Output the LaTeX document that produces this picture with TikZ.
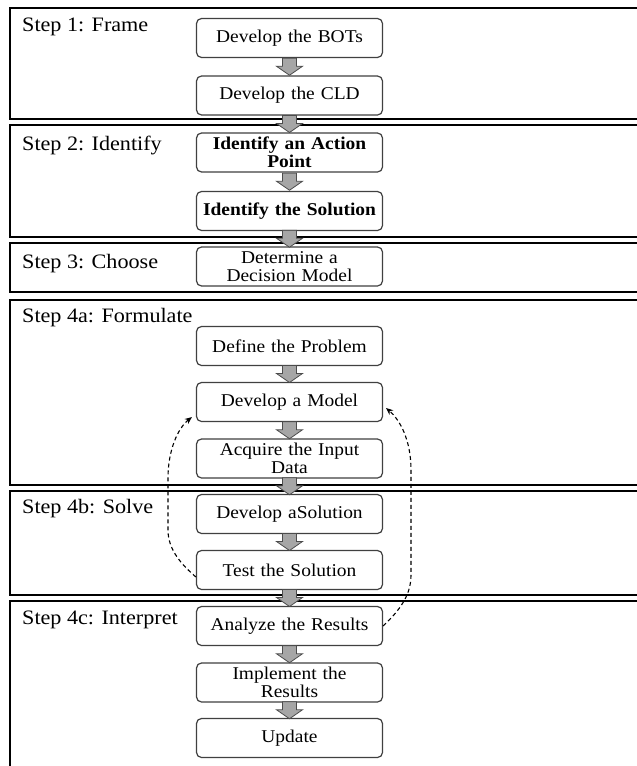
\documentclass[tikz,border=0pt]{standalone}
\usepackage{fontspec}
\setmainfont{Liberation Serif}[FakeStretch=1.08]
\usetikzlibrary{arrows.meta,calc}
\tikzset{
  panel/.style={draw=black, line width=2.6bp},
  stepbox/.style={draw=black!75, rounded corners=5bp, minimum width=186bp, minimum height=39bp,
    align=center, text width=180bp, inner sep=1bp, fill=white, line width=1.2bp,
    font=\fontsize{18bp}{17.5bp}\selectfont},
  boldbox/.style={stepbox, font=\fontsize{18bp}{17.5bp}\selectfont\bfseries},
  steplabel/.style={anchor=base west, inner sep=0pt, font=\fontsize{20.5bp}{21bp}\selectfont},
  blockarrow/.pic={\path[draw=black!70, fill=black!35, line width=0.8bp, line join=miter]
     (-7,-8.5) -- (7,-8.5) -- (7,-0.5) -- (13,-0.5) -- (0,8.5) -- (-13,-0.5) -- (-7,-0.5) -- cycle;},
  loop/.style={dashed, dash pattern=on 4bp off 3bp, line width=1.1bp, -{Stealth[length=7bp,width=6bp]}}
}
\begin{document}
\begin{tikzpicture}[x=1bp,y=-1bp]
\useasboundingbox (0,0) rectangle (637,766);
\clip (0,0) rectangle (637,766);
\fill[white] (0,0) rectangle (637,766);
% panels
\draw[panel] (10,8) rectangle (680,119);
\draw[panel] (10,125) rectangle (680,237);
\draw[panel] (10,243) rectangle (680,292);
\draw[panel] (10,300) rectangle (680,485);
\draw[panel] (10,491) rectangle (680,595);
\draw[panel] (10,601) rectangle (680,800);
% labels
\node[steplabel] (l1) at (22,32) {Step 1: Frame};
\node[steplabel] (l2) at (22,150) {Step 2: Identify};
\node[steplabel] (l3) at (22,268) {Step 3: Choose};
\node[steplabel] (l4) at (22,322) {Step 4a: Formulate};
\node[steplabel] (l5) at (22,513) {Step 4b: Solve};
\node[steplabel] (l6) at (22,624) {Step 4c: Interpret};
% boxes
\node[stepbox] (bots) at (289.5,38) {Develop the BOTs};
\node[stepbox] (cld) at (289.5,95.5) {Develop the CLD};
\node[boldbox] (action) at (289.5,152.5) {Identify an Action\\Point};
\node[boldbox] (solution) at (289.5,211) {Identify the Solution};
\node[stepbox] (decision) at (289.5,266.5) {Determine a\\Decision Model};
\node[stepbox] (define) at (289.5,346) {Define the Problem};
\node[stepbox] (model) at (289.5,402) {Develop a Model};
\node[stepbox] (acquire) at (289.5,458.5) {Acquire the Input\\Data};
\node[stepbox] (devsol) at (289.5,514) {Develop aSolution};
\node[stepbox] (test) at (289.5,570) {Test the Solution};
\node[stepbox] (analyze) at (289.5,626) {Analyze the Results};
\node[stepbox] (implement) at (289.5,682.5) {Implement the\\Results};
\node[stepbox] (update) at (289.5,738) {Update};
% block arrows
\foreach \a/\b in {bots/cld,cld/action,action/solution,solution/decision,
  define/model,model/acquire,acquire/devsol,devsol/test,test/analyze,analyze/implement,implement/update}{
  \pic at ($(\a.south)!0.5!(\b.north)$) {blockarrow};
}
% feedback loops
\draw[loop] ([yshift=-7bp]test.west) .. controls (182,565) and (168,550) .. (168,530)
  -- (168,478) .. controls (168,450) and (178,428) .. ([xshift=-4bp,yshift=5bp]model.south west);
\draw[loop] (analyze.east) .. controls (400,610) and (411,595) .. (411,575)
  -- (411,470) .. controls (411,440) and (400,420) .. ([xshift=3bp,yshift=-6bp]model.east);
\end{tikzpicture}
\end{document}
